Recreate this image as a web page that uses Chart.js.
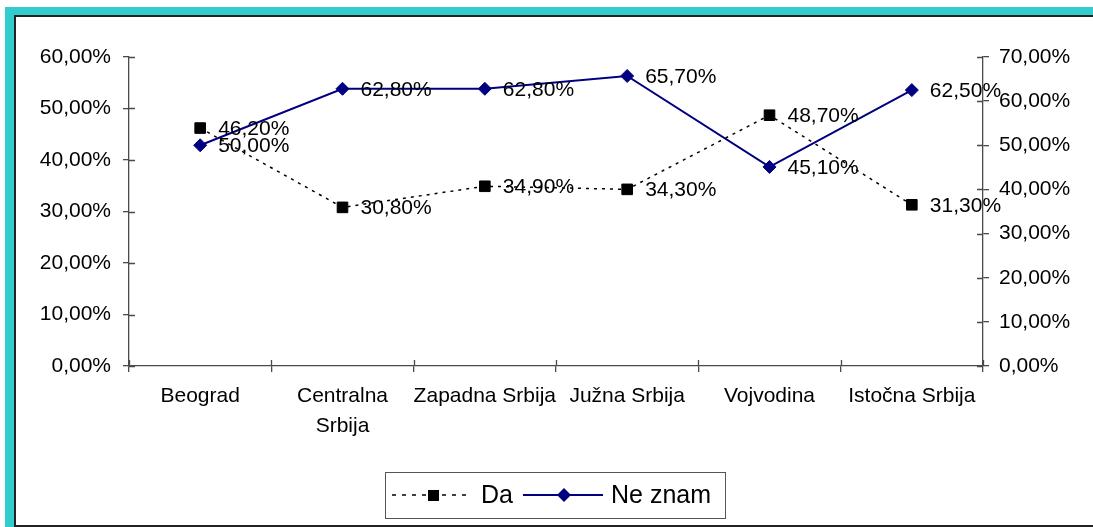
<!DOCTYPE html>
<html>
<head>
<meta charset="utf-8">
<script src="https://cdn.jsdelivr.net/npm/chart.js@4.4.1/dist/chart.umd.min.js"></script>
<style>
  html, body { margin: 0; padding: 0; background: #fff; }
  body { width: 1093px; height: 527px; position: relative; overflow: hidden; }
  .outer { position: absolute; left: 5px; top: 7px; right: 0; bottom: 0; background: #33cccc; }
  .inner { position: absolute; left: 9px; top: 8px; right: 0; bottom: 0; background: #fff;
           border-top: 2px solid #222; border-left: 2px solid #222; border-bottom: 2px solid #222; }
  #chart { position: absolute; left: 0; top: 0; }
</style>
</head>
<body>
<div class="outer"><div class="inner"></div></div>
<canvas id="chart" width="1093" height="527"></canvas>
<script>
const regions = ["Beograd", ["Centralna", "Srbija"], "Zapadna Srbija", "Južna Srbija", "Vojvodina", "Istočna Srbija"];
const daValues = [46.2, 30.8, 34.9, 34.3, 48.7, 31.3];
const neZnamValues = [50.0, 62.8, 62.8, 65.7, 45.1, 62.5];
const leftTicks = [0, 10, 20, 30, 40, 50, 60];
const rightTicks = [0, 10, 20, 30, 40, 50, 60, 70];

const FONT = "'Liberation Sans', Arial, sans-serif";
const AXIS = "#4a4a4a";

function pct(v) {
  return v.toFixed(2).replace(".", ",") + "%";
}

// value labels right of each point
const valueLabels = {
  id: "valueLabels",
  afterDatasetsDraw(chart) {
    const ctx = chart.ctx;
    ctx.save();
    ctx.font = "21px " + FONT;
    ctx.fillStyle = "#000";
    ctx.textAlign = "left";
    ctx.textBaseline = "middle";
    chart.data.datasets.forEach((ds, i) => {
      chart.getDatasetMeta(i).data.forEach((pt, j) => {
        ctx.fillText(pct(ds.data[j]), pt.x + 18, pt.y + 1);
      });
    });
    ctx.restore();
  }
};

// tick marks crossing the axes
const crossTicks = {
  id: "crossTicks",
  afterDraw(chart) {
    const ctx = chart.ctx;
    const a = chart.chartArea;
    ctx.save();
    ctx.strokeStyle = AXIS;
    ctx.lineWidth = 1.3;
    ctx.beginPath();
    const yl = chart.scales.y;
    yl.ticks.forEach(t => {
      const y = Math.round(yl.getPixelForValue(t.value)) + 0.5;
      ctx.moveTo(a.left, y); ctx.lineTo(a.left + 6, y);
    });
    const yr = chart.scales.y1;
    yr.ticks.forEach(t => {
      const y = Math.round(yr.getPixelForValue(t.value)) + 0.5;
      ctx.moveTo(a.right - 6, y); ctx.lineTo(a.right, y);
    });
    const n = regions.length;
    for (let i = 0; i <= n; i++) {
      const x = Math.round(a.left + i * (a.right - a.left) / n) + 0.5;
      ctx.moveTo(x, a.bottom); ctx.lineTo(x, a.bottom - 6);
    }
    ctx.stroke();
    ctx.restore();
  }
};

// legend box like the original
const boxLegend = {
  id: "boxLegend",
  afterDraw(chart) {
    const ctx = chart.ctx;
    ctx.save();
    ctx.strokeStyle = "#555";
    ctx.lineWidth = 1;
    ctx.strokeRect(385.5, 472.5, 340, 46);
    const cy = 495;

    ctx.strokeStyle = "#000";
    ctx.lineWidth = 1.5;
    ctx.setLineDash([4, 6]);
    ctx.beginPath();
    ctx.moveTo(392, cy); ctx.lineTo(472, cy);
    ctx.stroke();
    ctx.setLineDash([]);
    ctx.fillStyle = "#000";
    ctx.fillRect(428, cy - 5, 11, 11);

    ctx.strokeStyle = "#000080";
    ctx.lineWidth = 2;
    ctx.beginPath();
    ctx.moveTo(523, cy); ctx.lineTo(603, cy);
    ctx.stroke();
    ctx.fillStyle = "#000080";
    ctx.beginPath();
    ctx.moveTo(564, cy - 7); ctx.lineTo(571, cy); ctx.lineTo(564, cy + 7); ctx.lineTo(557, cy);
    ctx.closePath();
    ctx.fill();

    ctx.font = "25px " + FONT;
    ctx.fillStyle = "#000";
    ctx.textBaseline = "middle";
    ctx.textAlign = "left";
    ctx.fillText("Da", 481, cy + 1);
    ctx.fillText("Ne znam", 611, cy + 1);
    ctx.restore();
  }
};

const ctx = document.getElementById("chart").getContext("2d");
const chart = new Chart(ctx, {
  type: "line",
  data: {
    labels: regions,
    datasets: [
      {
        label: "Da",
        data: daValues,
        yAxisID: "y",
        borderColor: "#000",
        borderWidth: 1.5,
        borderDash: [3, 5],
        pointStyle: "rect",
        pointRadius: 7.5,
        pointBorderWidth: 1,
        pointBackgroundColor: "#000",
        pointBorderColor: "#000",
        tension: 0
      },
      {
        label: "Ne znam",
        data: neZnamValues,
        yAxisID: "y1",
        borderColor: "#000080",
        borderWidth: 2,
        pointStyle: "rectRot",
        pointRadius: 6.5,
        pointBorderWidth: 1,
        pointBackgroundColor: "#000080",
        pointBorderColor: "#000080",
        tension: 0
      }
    ]
  },
  options: {
    responsive: false,
    animation: false,
    layout: { padding: { top: 57, bottom: 0, left: 0, right: 0 } },
    plugins: {
      legend: { display: false },
      tooltip: { enabled: false }
    },
    scales: {
      x: {
        offset: true,
        grid: { drawOnChartArea: false, drawTicks: true, tickLength: 6, color: AXIS, lineWidth: 1.3, offset: true },
        border: { color: AXIS, width: 1.3 },
        ticks: {
          color: "#000",
          font: { family: FONT, size: 21, lineHeight: 1.4 },
          padding: 10,
          autoSkip: false,
          maxRotation: 0
        },
        afterFit(s) { s.height = 161; }
      },
      y: {
        position: "left",
        min: 0,
        max: 60,
        afterBuildTicks(s) { s.ticks = leftTicks.map(v => ({ value: v })); },
        grid: { drawOnChartArea: false, drawTicks: true, tickLength: 6, color: AXIS, lineWidth: 1.3 },
        border: { color: AXIS, width: 1.3 },
        ticks: {
          color: "#000",
          font: { family: FONT, size: 21 },
          padding: 12,
          callback: v => pct(v)
        },
        afterFit(s) { s.width = 129; }
      },
      y1: {
        position: "right",
        min: 0,
        max: 70,
        afterBuildTicks(s) { s.ticks = rightTicks.map(v => ({ value: v })); },
        grid: { drawOnChartArea: false, drawTicks: true, tickLength: 6, color: AXIS, lineWidth: 1.3 },
        border: { color: AXIS, width: 1.3 },
        ticks: {
          color: "#000",
          font: { family: FONT, size: 21 },
          padding: 10,
          callback: v => pct(v)
        },
        afterFit(s) { s.width = 110; }
      }
    }
  },
  plugins: [valueLabels, crossTicks, boxLegend]
});
</script>
</body>
</html>
